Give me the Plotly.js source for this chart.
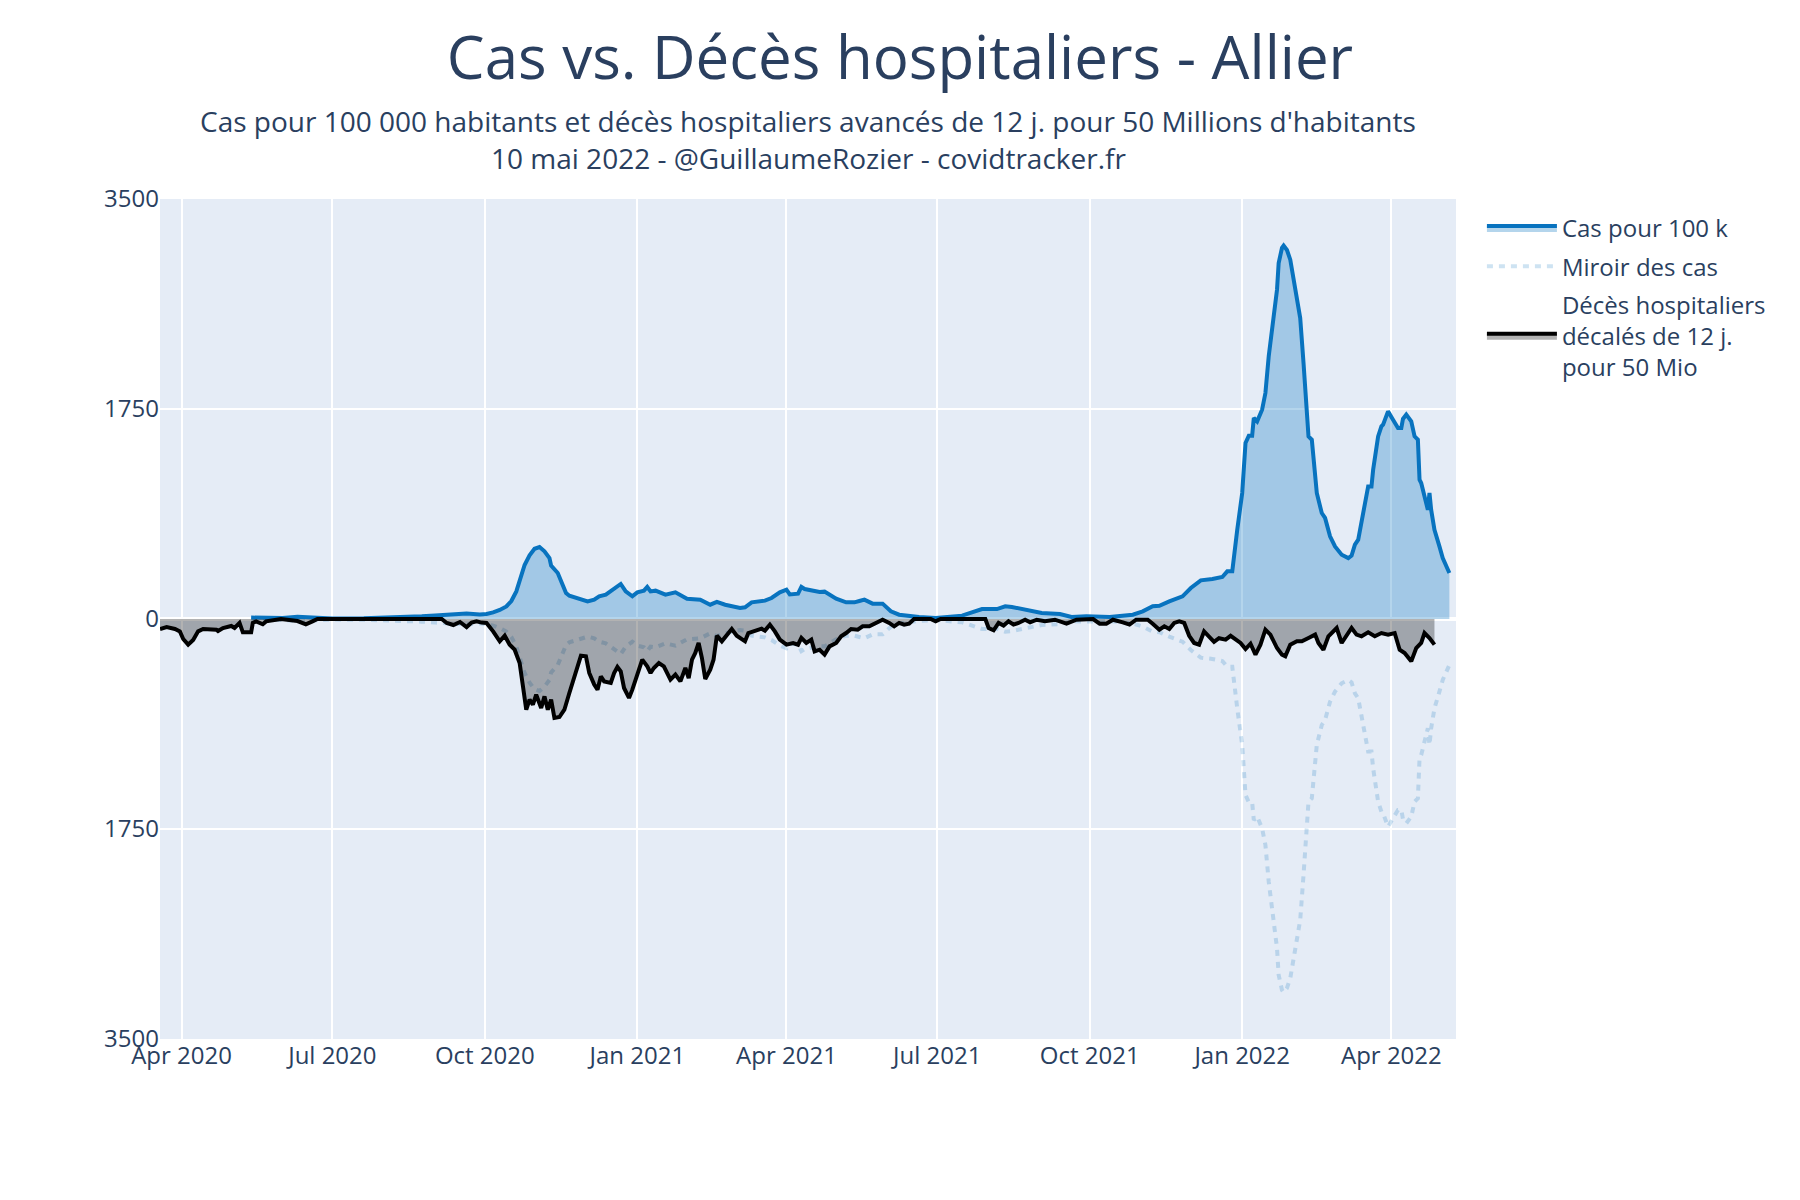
<!DOCTYPE html>
<html>
<head>
<meta charset="utf-8">
<script src="https://cdn.plot.ly/plotly-3.0.1.min.js"></script>
<style>
  body { margin: 0; background: white; }
  #myPlot { width: 1800px; height: 1200px; }
</style>
</head>
<body>
<div id="myPlot"></div>
<script>
// Cases per 100k
var casDates = [
    '2020-05-13', '2020-05-21', '2020-06-01', '2020-06-10', '2020-06-18', '2020-07-01', '2020-07-20',
    '2020-08-01', '2020-08-14', '2020-08-24', '2020-09-01', '2020-09-11', '2020-09-20', '2020-09-28',
    '2020-10-02', '2020-10-06', '2020-10-10', '2020-10-14', '2020-10-17', '2020-10-20', '2020-10-23',
    '2020-10-25', '2020-10-28', '2020-10-31', '2020-11-03', '2020-11-06', '2020-11-09', '2020-11-10',
    '2020-11-14', '2020-11-16', '2020-11-19', '2020-11-21', '2020-11-27', '2020-12-02', '2020-12-06',
    '2020-12-09', '2020-12-13', '2020-12-18', '2020-12-22', '2020-12-25', '2020-12-29', '2021-01-01',
    '2021-01-05', '2021-01-07', '2021-01-09', '2021-01-12', '2021-01-18', '2021-01-24', '2021-01-31',
    '2021-02-08', '2021-02-14', '2021-02-18', '2021-02-23', '2021-03-04', '2021-03-07', '2021-03-11',
    '2021-03-19', '2021-03-23', '2021-03-28', '2021-04-01', '2021-04-03', '2021-04-08', '2021-04-10',
    '2021-04-12', '2021-04-16', '2021-04-21', '2021-04-24', '2021-05-01', '2021-05-07', '2021-05-12',
    '2021-05-15', '2021-05-18', '2021-05-23', '2021-05-29', '2021-06-03', '2021-06-08', '2021-06-20',
    '2021-06-30', '2021-07-16', '2021-07-22', '2021-07-28', '2021-08-06', '2021-08-11', '2021-08-15',
    '2021-08-23', '2021-09-02', '2021-09-13', '2021-09-20', '2021-09-29', '2021-10-13', '2021-10-27',
    '2021-11-02', '2021-11-08', '2021-11-12', '2021-11-18', '2021-11-26', '2021-12-01', '2021-12-07',
    '2021-12-14', '2021-12-20', '2021-12-23', '2021-12-26', '2021-12-29', '2022-01-01', '2022-01-03',
    '2022-01-05', '2022-01-07', '2022-01-08', '2022-01-10', '2022-01-13', '2022-01-15', '2022-01-17',
    '2022-01-20', '2022-01-22', '2022-01-23', '2022-01-25', '2022-01-26', '2022-01-28', '2022-01-30',
    '2022-02-02', '2022-02-05', '2022-02-07', '2022-02-10', '2022-02-12', '2022-02-15', '2022-02-18',
    '2022-02-20', '2022-02-23', '2022-02-26', '2022-03-02', '2022-03-06', '2022-03-08', '2022-03-10',
    '2022-03-12', '2022-03-16', '2022-03-18', '2022-03-20', '2022-03-21', '2022-03-24', '2022-03-26',
    '2022-03-27', '2022-03-30', '2022-04-02', '2022-04-05', '2022-04-07', '2022-04-08', '2022-04-10',
    '2022-04-13', '2022-04-15', '2022-04-17', '2022-04-18', '2022-04-19', '2022-04-23', '2022-04-24',
    '2022-04-25', '2022-04-27', '2022-04-30', '2022-05-02', '2022-05-06'
];
var casValues = [
    12, 10, 8, 18, 14, 5, 6,
    10, 15, 22, 30, 38, 45, 38,
    42, 55, 75, 105, 150, 230, 370,
    450, 530, 585, 600, 564, 508, 445,
    383, 314, 217, 194, 167, 147, 161,
    189, 203, 250, 292, 230, 189, 222,
    236, 267, 230, 236, 203, 222, 169,
    161, 119, 142, 119, 92, 97, 139,
    153, 175, 222, 244, 205, 211, 267,
    250, 239, 225, 228, 169, 139, 139,
    150, 161, 128, 128, 64, 36, 16,
    8, 28, 56, 83, 83, 106, 100,
    78, 50, 42, 17, 22, 17, 36,
    64, 106, 110, 147, 189, 258, 322,
    333, 350, 397, 397, 744, 1050, 1467,
    1528, 1528, 1675, 1647, 1744, 1883, 2189,
    2522, 2744, 2967, 3092, 3111, 3075, 2994,
    2758, 2508, 2133, 1522, 1494, 1050, 883,
    842, 689, 605, 536, 508, 528, 619,
    661, 939, 1105, 1105, 1244, 1522, 1605,
    1620, 1730, 1661, 1592, 1592, 1667, 1703,
    1647, 1522, 1494, 1161, 1133, 911, 1050,
    911, 744, 605, 508, 383
];

// Hospital deaths shifted by 12 days, for 50 million (drawn below zero)
var decesDates = [
    '2020-03-19', '2020-03-23', '2020-03-28', '2020-03-31', '2020-04-02', '2020-04-05', '2020-04-08',
    '2020-04-11', '2020-04-14', '2020-04-22', '2020-04-23', '2020-04-26', '2020-05-01', '2020-05-03',
    '2020-05-06', '2020-05-08', '2020-05-13', '2020-05-14', '2020-05-16', '2020-05-20', '2020-05-22',
    '2020-05-26', '2020-05-31', '2020-06-10', '2020-06-15', '2020-06-19', '2020-06-22', '2020-07-15',
    '2020-08-20', '2020-09-05', '2020-09-08', '2020-09-12', '2020-09-16', '2020-09-20', '2020-09-23',
    '2020-09-26', '2020-09-29', '2020-10-02', '2020-10-06', '2020-10-10', '2020-10-13', '2020-10-16',
    '2020-10-19', '2020-10-22', '2020-10-24', '2020-10-26', '2020-10-28', '2020-10-30', '2020-11-01',
    '2020-11-04', '2020-11-06', '2020-11-08', '2020-11-10', '2020-11-12', '2020-11-15', '2020-11-18',
    '2020-11-21', '2020-11-25', '2020-11-28', '2020-12-01', '2020-12-03', '2020-12-06', '2020-12-08',
    '2020-12-10', '2020-12-12', '2020-12-16', '2020-12-18', '2020-12-20', '2020-12-22', '2020-12-24',
    '2020-12-27', '2020-12-29', '2021-01-01', '2021-01-04', '2021-01-07', '2021-01-09', '2021-01-11',
    '2021-01-14', '2021-01-17', '2021-01-21', '2021-01-24', '2021-01-27', '2021-01-30', '2021-02-01',
    '2021-02-03', '2021-02-05', '2021-02-07', '2021-02-09', '2021-02-11', '2021-02-14', '2021-02-16',
    '2021-02-18', '2021-02-21', '2021-02-24', '2021-02-27', '2021-03-02', '2021-03-07', '2021-03-09',
    '2021-03-13', '2021-03-17', '2021-03-19', '2021-03-22', '2021-03-25', '2021-03-28', '2021-04-01',
    '2021-04-05', '2021-04-08', '2021-04-10', '2021-04-13', '2021-04-16', '2021-04-18', '2021-04-21',
    '2021-04-24', '2021-04-27', '2021-05-01', '2021-05-04', '2021-05-07', '2021-05-10', '2021-05-14',
    '2021-05-17', '2021-05-21', '2021-05-25', '2021-05-29', '2021-06-02', '2021-06-05', '2021-06-08',
    '2021-06-11', '2021-06-14', '2021-06-17', '2021-06-27', '2021-06-30', '2021-07-03', '2021-07-30',
    '2021-08-01', '2021-08-04', '2021-08-07', '2021-08-10', '2021-08-13', '2021-08-16', '2021-08-19',
    '2021-08-23', '2021-08-26', '2021-08-30', '2021-09-04', '2021-09-10', '2021-09-17', '2021-09-23',
    '2021-10-03', '2021-10-07', '2021-10-11', '2021-10-15', '2021-10-21', '2021-10-25', '2021-10-29',
    '2021-11-05', '2021-11-08', '2021-11-12', '2021-11-15', '2021-11-18', '2021-11-21', '2021-11-24',
    '2021-11-27', '2021-11-30', '2021-12-03', '2021-12-06', '2021-12-09', '2021-12-12', '2021-12-15',
    '2021-12-18', '2021-12-22', '2021-12-25', '2021-12-28', '2021-12-31', '2022-01-03', '2022-01-06',
    '2022-01-09', '2022-01-12', '2022-01-15', '2022-01-18', '2022-01-22', '2022-01-25', '2022-01-27',
    '2022-01-30', '2022-02-03', '2022-02-06', '2022-02-10', '2022-02-14', '2022-02-16', '2022-02-19',
    '2022-02-22', '2022-02-25', '2022-02-27', '2022-03-02', '2022-03-05', '2022-03-08', '2022-03-11',
    '2022-03-14', '2022-03-18', '2022-03-22', '2022-03-26', '2022-03-30', '2022-04-03', '2022-04-06',
    '2022-04-09', '2022-04-13', '2022-04-16', '2022-04-19', '2022-04-21', '2022-04-24', '2022-04-27'
];
var decesValues = [
    -83, -67, -83, -103, -167, -214, -175,
    -103, -83, -89, -100, -75, -58, -75,
    -33, -111, -111, -33, -20, -44, -20,
    -11, 0, -17, -44, -20, 0, 0,
    0, 0, -33, -50, -25, -67, -30,
    -20, -30, -33, -103, -186, -139, -214,
    -256, -367, -561, -756, -672, -714, -631,
    -742, -645, -756, -672, -825, -817, -756,
    -617, -422, -306, -311, -450, -547, -589,
    -478, -520, -533, -450, -400, -436, -575,
    -658, -589, -450, -339, -395, -450, -408,
    -367, -395, -506, -464, -520, -408, -492,
    -339, -283, -200, -325, -500, -422, -339,
    -139, -186, -139, -83, -139, -186, -117,
    -103, -81, -97, -47, -103, -172, -214,
    -200, -214, -158, -200, -172, -270, -256,
    -297, -228, -200, -144, -117, -83, -89,
    -61, -61, -33, -6, -33, -61, -33,
    -47, -39, 0, 0, -19, 0, 0,
    -75, -94, -33, -55, -19, -47, -33,
    -6, -28, -6, -19, -6, -39, -6,
    0, -39, -39, -6, -28, -47, -6,
    -6, -39, -89, -61, -83, -33, -19,
    -33, -140, -200, -214, -103, -144, -190,
    -160, -172, -140, -172, -200, -250, -206,
    -297, -214, -89, -130, -242, -297, -311,
    -214, -186, -186, -158, -130, -200, -256,
    -144, -103, -75, -200, -130, -75, -130,
    -144, -111, -144, -117, -130, -117, -256,
    -283, -353, -242, -200, -117, -158, -214
];

// Y axis is symmetric, labels shown without sign
var yTickVals = [-3500, -1750, 0, 1750, 3500];
var yTickText = ['3500', '1750', '0', '1750', '3500'];

// Mirror of the cases, drawn under zero
var miroirValues = casValues.map(function (v) { return -v; });

// Cases - blue line + light fill
var trace1 = {
    x: casDates,
    y: casValues,
    name: 'Cas pour 100 k',
    legendgroup: 'cas',
    type: 'scatter',
    mode: 'lines',
    fill: 'tozeroy',
    fillcolor: 'rgba(8, 115, 191, 0.3)',
    line: { color: 'rgb(8, 115, 191)', width: 4 }
};
// Mirror - dotted light blue
var trace2 = {
    x: casDates,
    y: miroirValues,
    name: 'Miroir des cas',
    legendgroup: 'miroir',
    type: 'scatter',
    mode: 'lines',
    line: { color: 'rgba(8, 115, 191, 0.2)', width: 4, dash: '6px,6px' }
};
// Deaths - black line + grey fill
var trace3 = {
    x: decesDates,
    y: decesValues,
    name: 'Décès hospitaliers<br>décalés de 12 j.<br>pour 50 Mio',
    legendgroup: 'deces',
    type: 'scatter',
    mode: 'lines',
    fill: 'tozeroy',
    fillcolor: 'rgba(0, 0, 0, 0.3)',
    line: { color: 'black', width: 4 }
};

var fontFamily = '"Open Sans", verdana, arial, sans-serif';

var layout = {
    width: 1800,
    height: 1200,
    margin: { l: 160, r: 344, t: 199, b: 161 },
    paper_bgcolor: 'white',
    plot_bgcolor: '#E5ECF6',
    font: { family: fontFamily, size: 24, color: '#2a3f5f' },
    title: {
        text: 'Cas vs. Décès hospitaliers - Allier',
        font: { size: 60, color: '#2a3f5f' },
        x: 0.5,
        xref: 'container',
        y: 0.9514,
        yref: 'container',
        yanchor: 'middle'
    },
    annotations: [
        {
            text: "Cas pour 100 000 habitants et décès hospitaliers avancés de 12 j. pour 50 Millions d'habitants",
            xref: 'paper', yref: 'paper', x: 0.5, y: 1.0929,
            xanchor: 'center', yanchor: 'middle',
            showarrow: false,
            font: { size: 28, color: '#2a3f5f' }
        },
        {
            text: '10 mai 2022 - @GuillaumeRozier - covidtracker.fr',
            xref: 'paper', yref: 'paper', x: 0.5, y: 1.0488,
            xanchor: 'center', yanchor: 'middle',
            showarrow: false,
            font: { size: 28, color: '#2a3f5f' }
        }
    ],
    xaxis: {
        type: 'date',
        range: ['2020-03-19', '2022-05-10'],
        tick0: '2020-01-01',
        dtick: 'M3',
        tickformat: '%b %Y',
        gridcolor: 'white',
        gridwidth: 2,
        showline: false,
        zeroline: false
    },
    yaxis: {
        range: [-3500, 3500],
        tickvals: yTickVals,
        ticktext: yTickText,
        gridcolor: 'white',
        gridwidth: 2,
        zeroline: true,
        zerolinecolor: 'white',
        zerolinewidth: 4
    },
    legend: {
        x: 1.02,
        y: 0.9917,
        xanchor: 'left',
        yanchor: 'top',
        itemwidth: 70,
        tracegroupgap: 4,
        font: { size: 24, color: '#2a3f5f' }
    },
    showlegend: true
};

var config = { displayModeBar: false, staticPlot: true };

var data = [trace1, trace2, trace3];
Plotly.newPlot('myPlot', data, layout, config);
</script>
</body>
</html>
